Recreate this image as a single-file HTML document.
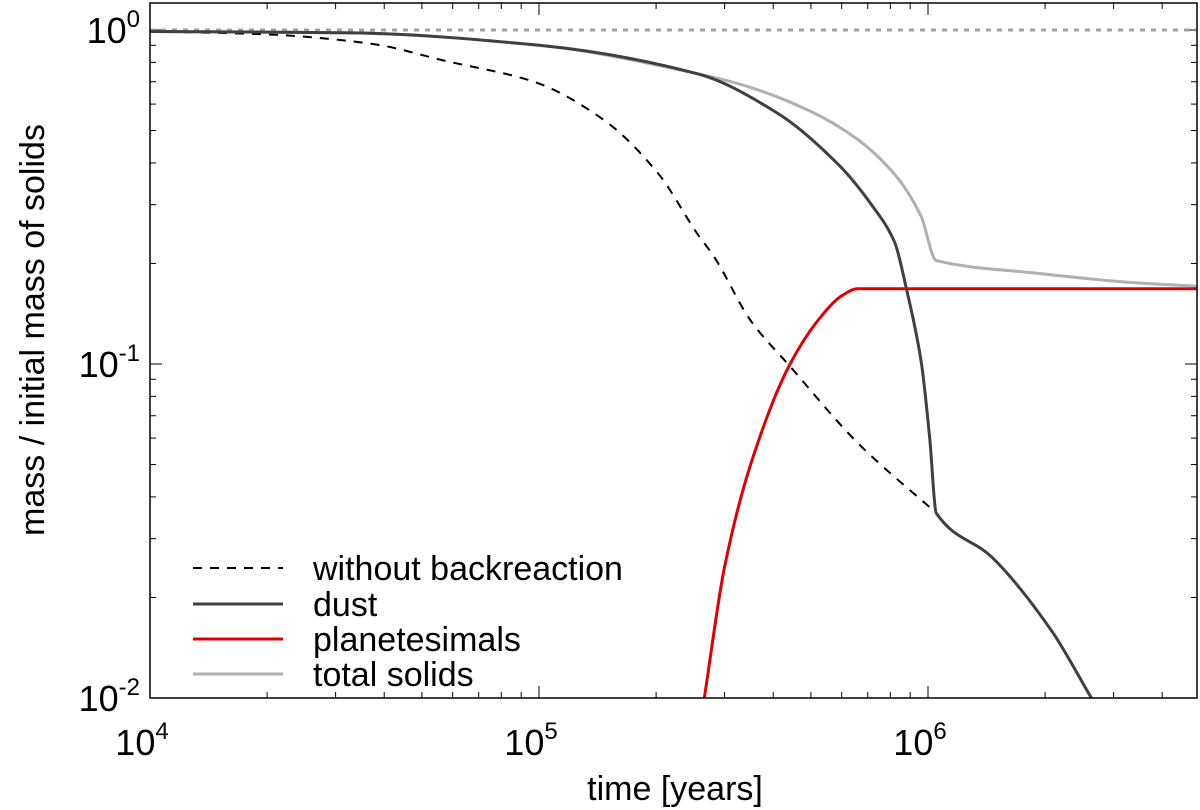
<!DOCTYPE html>
<html><head><meta charset="utf-8"><style>
html,body{margin:0;padding:0;background:#fff;}
svg{display:block;font-family:"Liberation Sans",sans-serif;}
</style></head><body>
<svg id="chart" width="1200" height="810" xmlns="http://www.w3.org/2000/svg">
<g id="ticks"></g>
<g id="series"></g>
<rect x="150" y="3" width="1047" height="695" fill="none" stroke="#000" stroke-width="1.5"/>
<text x="675" y="800" font-size="34" text-anchor="middle">time [years]</text>
<text transform="translate(44,330) rotate(-90)" font-size="34" text-anchor="middle">mass / initial mass of solids</text>
<g>
<line x1="193" y1="568" x2="283" y2="568" stroke="#000" stroke-width="2" stroke-dasharray="9,8"/>
<text x="313" y="580" font-size="34">without backreaction</text>
<line x1="193" y1="604" x2="283" y2="604" stroke="#404040" stroke-width="3"/>
<text x="313" y="616" font-size="34">dust</text>
<line x1="193" y1="639" x2="283" y2="639" stroke="#e00000" stroke-width="3"/>
<text x="313" y="651" font-size="34">planetesimals</text>
<line x1="193" y1="674" x2="283" y2="674" stroke="#b0b0b0" stroke-width="3"/>
<text x="313" y="686" font-size="34">total solids</text>
</g>
</svg>
<script>
const xTickExp = [4, 5, 6];
const yTickExp = [0, -1, -2];
const refLevel = [1.0];
const dashedT = [1e4, 2e4, 3.7e4, 5.7e4, 9.7e4, 1.47e5, 2.02e5, 2.55e5, 2.83e5, 3.5e5, 4.4e5, 6.6e5, 1.05e6];
const dashedM = [0.99, 0.97, 0.91, 0.81, 0.70, 0.537, 0.373, 0.246, 0.208, 0.135, 0.099, 0.058, 0.0358];
const totalT = [1e4, 3.3e4, 1e5, 2.55e5, 3.4e5, 5e5, 6.6e5, 8.2e5, 9.6e5, 1.05e6, 1.9e6, 3.2e6, 4.9e6];
const totalM = [0.99, 0.98, 0.90, 0.74, 0.68, 0.57, 0.47, 0.37, 0.277, 0.204, 0.187, 0.176, 0.171];
const dustT = [1e4, 3.3e4, 1e5, 2.55e5, 4.1e5, 5.9e5, 7.2e5, 8.2e5, 8.8e5, 9.6e5, 1.01e6, 1.05e6, 1.46e6, 2.07e6, 2.63e6];
const dustM = [0.99, 0.98, 0.90, 0.74, 0.564, 0.394, 0.297, 0.232, 0.168, 0.102, 0.06, 0.0358, 0.0264, 0.016, 0.01];
const planT = [2.66e5, 3.0e5, 3.5e5, 4.4e5, 5.37e5, 6.0e5, 6.6e5, 4.9e6];
const planM = [0.01, 0.0247, 0.050, 0.099, 0.141, 0.160, 0.168, 0.168];

const X0 = 150, XD = 389, Y0 = 30, YD = 334, L = 150, R = 1197, T = 3, B = 698;
const NS = "http://www.w3.org/2000/svg";
function xs(t){ return X0 + (Math.log10(t) - 4) * XD; }
function ys(m){ return Y0 - Math.log10(m) * YD; }
function mk(tag, attrs, parent){ const e = document.createElementNS(NS, tag); for (const k in attrs) e.setAttribute(k, attrs[k]); parent.appendChild(e); return e; }
const tg = document.getElementById('ticks');
const sg = document.getElementById('series');

for (let e = 4; e <= 6; e++) {
  for (let k = 1; k <= 9; k++) {
    const x = xs(k * Math.pow(10, e));
    if (x > R) continue;
    const len = k === 1 ? 12 : 6;
    const t1 = mk('line', {x1: x, y1: B, x2: x, y2: B - len, stroke: '#000', 'stroke-width': 1}, tg);
    
    
    const t2 = mk('line', {x1: x, y1: T, x2: x, y2: T + len, stroke: '#000', 'stroke-width': 1}, tg);
    
    
  }
}
xTickExp.forEach(e => {
  const tx = mk('text', {x: xs(Math.pow(10, e)) - 8, y: 755, 'font-size': 36, 'text-anchor': 'middle'}, tg);
  
  
  tx.innerHTML = '10<tspan font-size="24" dy="-16">' + e + '</tspan>';
});
for (let e = -2; e <= 0; e++) {
  for (let k = 1; k <= 9; k++) {
    const y = ys(k * Math.pow(10, e));
    if (y < T) continue;
    const len = k === 1 ? 12 : 6;
    const t1 = mk('line', {x1: L, y1: y, x2: L + len, y2: y, stroke: '#000', 'stroke-width': 1}, tg);
    
    
    const t2 = mk('line', {x1: R, y1: y, x2: R - len, y2: y, stroke: '#000', 'stroke-width': 1}, tg);
    
    
  }
}
yTickExp.forEach(e => {
  const ty = mk('text', {x: 140, y: ys(Math.pow(10, e)) + 13, 'font-size': 36, 'text-anchor': 'end'}, tg);
  
  
  ty.innerHTML = '10<tspan font-size="24" dy="-16">' + e + '</tspan>';
});

// monotone cubic (Fritsch-Carlson) smoothing in pixel space
function path(ts, ms){
  const X = ts.map(xs), Y = ms.map(ys), n = X.length;
  const d = [], m = [];
  for (let i = 0; i < n - 1; i++) d.push((Y[i+1] - Y[i]) / (X[i+1] - X[i]));
  for (let i = 0; i < n; i++) {
    if (i === 0) m.push(d[0]);
    else if (i === n - 1) m.push(d[n-2]);
    else if (d[i-1] * d[i] <= 0) m.push(0);
    else m.push(2 / (1 / d[i-1] + 1 / d[i]));
  }
  let s = 'M' + X[0].toFixed(1) + ',' + Y[0].toFixed(1);
  for (let i = 0; i < n - 1; i++) {
    const h = (X[i+1] - X[i]) / 3;
    s += ' C' + (X[i] + h).toFixed(1) + ',' + (Y[i] + m[i] * h).toFixed(1) + ' ' +
         (X[i+1] - h).toFixed(1) + ',' + (Y[i+1] - m[i+1] * h).toFixed(1) + ' ' +
         X[i+1].toFixed(1) + ',' + Y[i+1].toFixed(1);
  }
  return s;
}
const ref = mk('line', {x1: L, y1: ys(refLevel[0]), x2: R, y2: ys(refLevel[0]), stroke: '#a0a0a0', 'stroke-width': 3, 'stroke-dasharray': '5,6'}, sg);


const p1 = mk('path', {d: path(dashedT, dashedM), fill: 'none', stroke: '#000', 'stroke-width': 2, 'stroke-dasharray': '9,8'}, sg);


const p2 = mk('path', {d: path(totalT, totalM), fill: 'none', stroke: '#b0b0b0', 'stroke-width': 3}, sg);


const p3 = mk('path', {d: path(planT, planM), fill: 'none', stroke: '#e00000', 'stroke-width': 3}, sg);


const p4 = mk('path', {d: path(dustT, dustM), fill: 'none', stroke: '#404040', 'stroke-width': 3}, sg);


</script>
</body></html>
